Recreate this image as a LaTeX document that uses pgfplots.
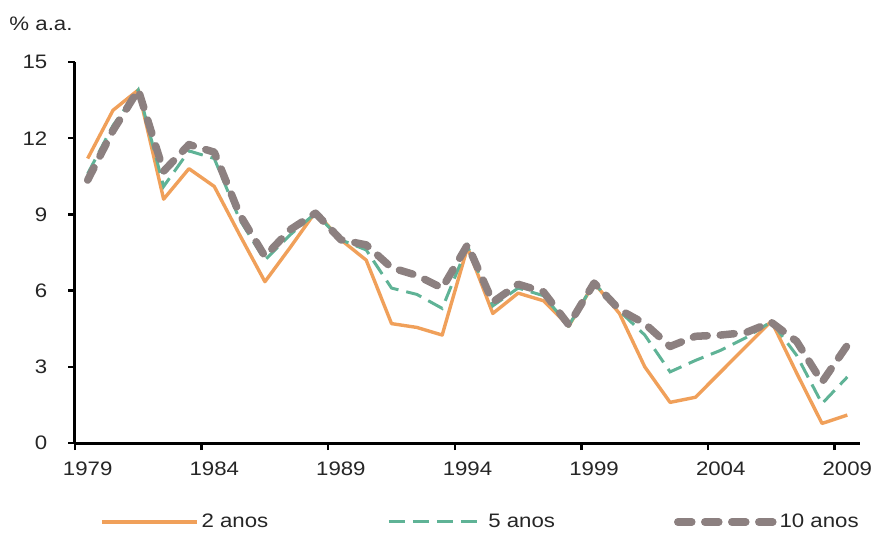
\documentclass[border=0pt]{standalone}
\usepackage{pgfplots}
\pgfplotsset{compat=1.18}
\usepackage{fontspec}
\setmainfont{Liberation Sans}[FakeStretch=1.14]
\definecolor{corange}{HTML}{F0A05A}
\definecolor{cgreen}{HTML}{5FB396}
\definecolor{cgray}{HTML}{8C8080}
\definecolor{ctext}{HTML}{262626}
\pgfplotstableread{
year two five ten
1979 11.2 10.6 10.35
1980 13.1 12.5 12.3
1981 13.9 13.9 13.9
1982 9.6 10.1 10.7
1983 10.8 11.5 11.75
1984 10.1 11.2 11.45
1985 8.2 8.8 9.0
1986 6.35 7.2 7.35
1987 7.7 8.2 8.4
1988 9.1 9.05 9.05
1989 8.0 8.0 8.0
1990 7.2 7.6 7.8
1991 4.7 6.1 6.9
1992 4.55 5.85 6.6
1993 4.25 5.3 6.1
1994 7.7 7.75 7.8
1995 5.1 5.4 5.55
1996 5.9 6.1 6.25
1997 5.6 5.8 5.95
1998 4.6 4.62 4.65
1999 6.3 6.3 6.3
2000 5.1 5.2 5.25
2001 3.0 4.25 4.7
2002 1.6 2.8 3.8
2003 1.8 3.25 4.2
2004 2.8 3.65 4.25
2005 3.8 4.15 4.35
2006 4.8 4.78 4.75
2007 2.75 3.45 4.0
2008 0.77 1.55 2.4
2009 1.1 2.6 3.85
}\datatable
\begin{document}
\fontsize{19.5bp}{22bp}\selectfont
\begin{tikzpicture}
\useasboundingbox (-75bp,-94bp) rectangle (801bp,443bp);
\begin{axis}[
  at={(0,0)}, anchor=south west,
  scale only axis, width=785bp, height=381bp,
  xmin=1978.5, xmax=2009.5, ymin=0, ymax=15,
  axis x line*=bottom, axis y line*=left,
  axis line style={line width=3bp, black},
  tick align=outside,
  major tick length=7bp,
  tick style={line width=2.5bp, black},
  xtick={1978.5,1983.5,1988.5,1993.5,1998.5,2003.5,2008.5},
  xticklabels={1979,1984,1989,1994,1999,2004,2009},
  xticklabel style={xshift=12.66bp, yshift=-5bp, text=ctext, font=\fontsize{19.5bp}{22bp}\selectfont},
  ytick={0,3,6,9,12,15},
  yticklabels={0,3,6,9,12,15},
  yticklabel style={xshift=-14bp, text=ctext, font=\fontsize{19.5bp}{22bp}\selectfont},
  clip=false,
  legend columns=3,
  legend style={at={(axis description cs:0.0318,-0.2073)}, anchor=west,
    draw=none, fill=none, inner sep=0pt, text=ctext,
    font=\fontsize{19.5bp}{22bp}\selectfont,
    /tikz/every even column/.append style={column sep=116bp},
    nodes={inner xsep=3bp, inner ysep=0pt}},
  legend image code/.code={\draw[#1] (0bp,0bp) -- (95bp,0bp);},
]
\addplot[corange, line width=3.4bp, line join=round] table[x=year,y=two] {\datatable};
\addlegendentry{2 anos}
\addplot[cgreen, line width=3bp, dash pattern=on 16bp off 8bp] table[x=year,y=five] {\datatable};
\addlegendentry{5 anos}
\addplot[cgray, line width=7.5bp, line cap=round, line join=round, dash pattern=on 14bp off 13bp] table[x=year,y=ten] {\datatable};
\addlegendentry{10 anos}
\node[anchor=west, text=ctext, font=\fontsize{19.5bp}{22bp}\selectfont] at (axis description cs:-0.092,1.10) {\% a.a.};
\end{axis}
\end{tikzpicture}
\end{document}
